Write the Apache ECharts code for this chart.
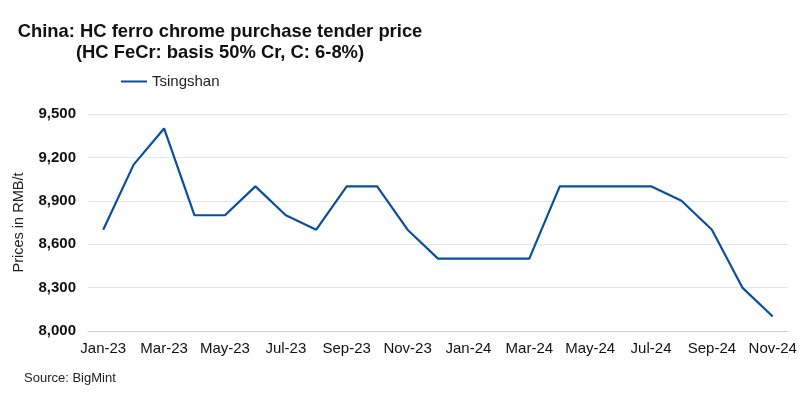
<!DOCTYPE html>
<html>
<head>
<meta charset="utf-8">
<script src="https://cdn.jsdelivr.net/npm/echarts@6/dist/echarts.min.js"></script>
<style>html,body{margin:0;padding:0;background:#fff}#c{width:800px;height:398px}</style>
</head>
<body>
<div id="c"></div>
<script>
const categories = ["Jan-23","Feb-23","Mar-23","Apr-23","May-23","Jun-23","Jul-23","Aug-23","Sep-23","Oct-23","Nov-23","Dec-23",
  "Jan-24","Feb-24","Mar-24","Apr-24","May-24","Jun-24","Jul-24","Aug-24","Sep-24","Oct-24","Nov-24"];
const tsingshan = [8700,9150,9400,8800,8800,9000,8800,8700,9000,9000,8700,8500,
  8500,8500,8500,9000,9000,9000,9000,8900,8700,8300,8100];
const yTicks = [8000,8300,8600,8900,9200,9500];

const chart = echarts.init(document.getElementById('c'));
chart.setOption({
  animation:false,
  textStyle:{fontFamily:'Liberation Sans, Arial, sans-serif'},
  title:{
    text:'China: HC ferro chrome purchase tender price\n(HC FeCr: basis 50% Cr, C: 6-8%)',
    left:215, top:16, textAlign:'center',
    textStyle:{fontSize:18.4, fontWeight:'bold', color:'#111', lineHeight:21, fontFamily:'Liberation Sans, Arial, sans-serif'}
  },
  legend:{
    top:69, left:116, itemWidth:26, itemHeight:2, itemGap:10,
    icon:'rect',
    textStyle:{fontSize:15, color:'#222'},
    data:['Tsingshan']
  },
  graphic:[{type:'text', left:24, top:372, style:{text:'Source: BigMint', fontSize:13, fill:'#222', fontFamily:'Liberation Sans, Arial, sans-serif'}}],
  grid:{left:88, right:12, top:114, bottom:67},
  xAxis:{
    type:'category', data:categories, boundaryGap:true,
    axisLine:{lineStyle:{color:'#d0d0d0'}},
    axisTick:{show:false},
    axisLabel:{interval:1, fontSize:15, color:'#111', margin:10}
  },
  yAxis:{
    type:'value', min:yTicks[0], max:yTicks[yTicks.length-1], interval:300,
    name:'Prices in RMB/t', nameLocation:'middle', nameGap:62,
    nameTextStyle:{fontSize:14.5, color:'#222'},
    axisLine:{show:false}, axisTick:{show:false},
    axisLabel:{fontSize:15, fontWeight:'bold', color:'#111', margin:12,
      formatter:v=>v.toLocaleString('en-US')},
    splitLine:{lineStyle:{color:'#e6e6e6'}}
  },
  series:[{
    name:'Tsingshan', type:'line', data:tsingshan, symbol:'none',
    lineStyle:{color:'#0a4f9e', width:2.2}, itemStyle:{color:'#0a4f9e'}
  }]
});
</script>
</body>
</html>
